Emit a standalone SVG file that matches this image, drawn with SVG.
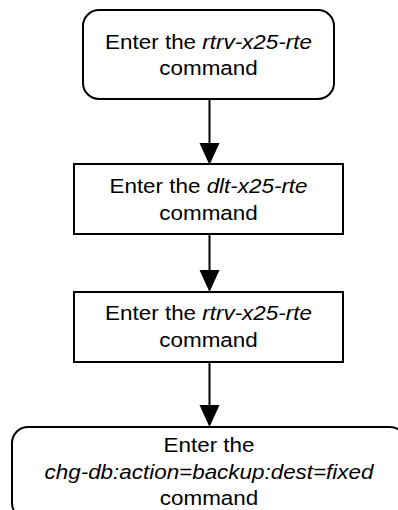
<svg xmlns="http://www.w3.org/2000/svg" width="398" height="510" viewBox="0 0 398 510">
<style>
.box{fill:#fff;stroke:#000;stroke-width:2}
.t{font-family:"Liberation Sans",Arial,sans-serif;font-size:19.5px;fill:#000;text-anchor:middle}
.i{font-style:italic}
.c{stroke:#000;stroke-width:2;fill:none}
</style>
<defs>
<marker id="ah" viewBox="0 0 20 22" refX="10" refY="22" markerWidth="20" markerHeight="22" markerUnits="userSpaceOnUse" orient="auto-start-reverse">
<path d="M0,0 L20,0 L10,22 Z" fill="#000"/>
</marker>
</defs>
<rect width="398" height="510" fill="#fff"/>
<g id="connectors">
<line class="c" x1="209.5" y1="99" x2="209.5" y2="143"/>
<path d="M199.5,143 L219.5,143 L209.5,165 Z" fill="#000"/>
<line class="c" x1="209.5" y1="234" x2="209.5" y2="271"/>
<path d="M199.5,270 L219.5,270 L209.5,292 Z" fill="#000"/>
<line class="c" x1="209.5" y1="362" x2="209.5" y2="406"/>
<path d="M199.5,405 L219.5,405 L209.5,427 Z" fill="#000"/>
</g>
<g id="n1">
<rect class="box" x="83" y="10" width="251" height="89" rx="16" ry="16"/>
<text class="t" transform="translate(208.5 48.5) scale(1.15 1)">Enter the <tspan class="i">rtrv-x25-rte</tspan></text>
<text class="t" transform="translate(208.5 75) scale(1.15 1)">command</text>
</g>
<g id="n2">
<rect class="box" x="74" y="164" width="269" height="70"/>
<text class="t" transform="translate(208.5 192.7) scale(1.15 1)">Enter the <tspan class="i">dlt-x25-rte</tspan></text>
<text class="t" transform="translate(208.5 220) scale(1.15 1)">command</text>
</g>
<g id="n3">
<rect class="box" x="74" y="292" width="269" height="70"/>
<text class="t" transform="translate(208.5 320) scale(1.15 1)">Enter the <tspan class="i">rtrv-x25-rte</tspan></text>
<text class="t" transform="translate(208.5 346.5) scale(1.15 1)">command</text>
</g>
<g id="n4">
<rect class="box" x="12" y="427" width="394" height="92" rx="16" ry="16"/>
<text class="t" transform="translate(209 451.7) scale(1.15 1)">Enter the</text>
<text class="t i" transform="translate(209 478.5) scale(1.15 1)">chg-db:action=backup:dest=fixed</text>
<text class="t" transform="translate(209 505) scale(1.15 1)">command</text>
</g>
</svg>
